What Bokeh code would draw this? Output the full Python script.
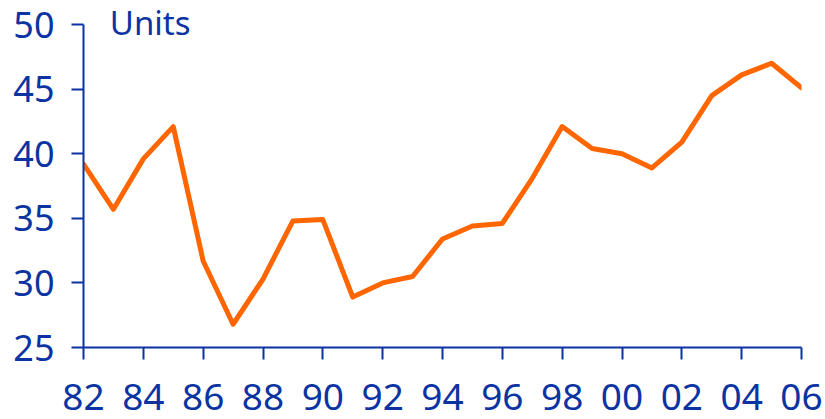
from bokeh.plotting import figure
from bokeh.models import FixedTicker, Label, Range1d
from bokeh.embed import file_html
from bokeh.resources import INLINE

# Annual series, 1982-2006
years = list(range(1982, 2007))
units = [39.2, 35.7, 39.6, 42.1, 31.7, 26.8, 30.3, 34.8, 34.9, 28.9,
         30.0, 30.5, 33.4, 34.4, 34.6, 38.1, 42.1, 40.4, 40.0, 38.9,
         40.9, 44.5, 46.1, 47.0, 45.1]

x_ticks = list(range(1982, 2007, 2))
x_tick_labels = ["82", "84", "86", "88", "90", "92", "94", "96", "98",
                 "00", "02", "04", "06"]
y_ticks = [25, 30, 35, 40, 45, 50]

NAVY = "#0B33A2"
ORANGE = "#FF6600"
FONT = "Noto Sans"

# frame reaches the top edge so the unit caption sits inside it;
# the y axis itself is bounded to 25-50
p = figure(width=825, height=419, output_backend="svg", toolbar_location=None,
           x_range=Range1d(1982, 2006), y_range=Range1d(25, 51.86),
           min_border_left=83, min_border_right=24,
           min_border_top=0, min_border_bottom=72)
p.outline_line_color = None
p.xgrid.visible = False
p.ygrid.visible = False
p.background_fill_color = "white"
p.border_fill_color = "white"

p.line(years, units, line_color=ORANGE, line_width=5, line_join="round",
       line_cap="round")

for ax in (p.xaxis[0], p.yaxis[0]):
    ax.axis_line_color = NAVY
    ax.axis_line_width = 2
    ax.major_tick_line_color = NAVY
    ax.major_tick_line_width = 2
    ax.major_tick_out = 12
    ax.major_tick_in = 0
    ax.minor_tick_line_color = None
    ax.major_label_text_color = NAVY
    ax.major_label_text_font = FONT

p.xaxis.ticker = FixedTicker(ticks=x_ticks)
p.xaxis.major_label_overrides = {t: s for t, s in zip(x_ticks, x_tick_labels)}
p.xaxis.major_label_text_font_size = "37px"
p.xaxis.major_label_standoff = 24
p.yaxis.ticker = FixedTicker(ticks=y_ticks)
p.yaxis.bounds = (25, 50)
p.yaxis.major_label_text_font_size = "36px"
p.yaxis.major_label_standoff = 17

p.add_layout(Label(x=1982.88, y=50.15, text="Units", text_color=NAVY,
                   text_font=FONT, text_font_size="33px",
                   text_align="left", text_baseline="alphabetic"))

open("out.html", "w").write(file_html(p, INLINE))
